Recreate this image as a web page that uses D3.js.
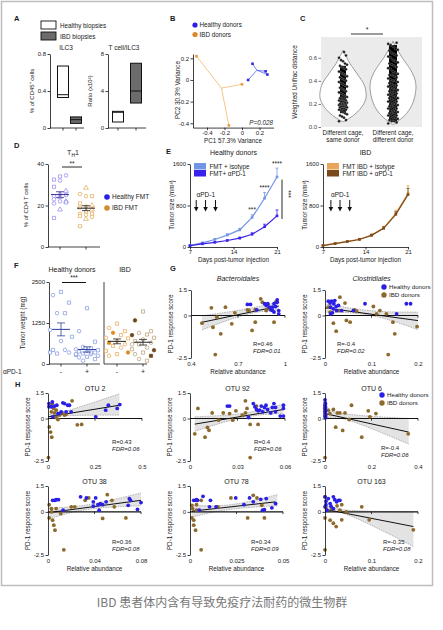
<!DOCTYPE html>
<html><head><meta charset="utf-8">
<script src="https://cdn.jsdelivr.net/npm/d3@7/dist/d3.min.js"></script>
<style>html,body{margin:0;padding:0;background:#fff;}svg{display:block}</style>
</head><body><svg id="chart"></svg>
<script>
// ================= DATA =================
// A
const ilc3Groups = ["Healthy biopsies", "IBD biopsies"];
const ilc3Box = [[0.33, 0.36, 0.67], [0.05, 0.09, 0.12]];      // q1, median, q3
const ratioBox = [[0.65, 1.7, 1.8], [2.7, 4.0, 7.0]];
const ilc3Ticks = [0, 0.4, 0.8];
const ratioTicks = [0, 4, 8];
// B
const pcaTicks = [-0.4, -0.2, 0, 0.2];
const pcaHealthyCentroid = [0.17, 0.09];
const pcaHealthy = [[0.12, 0.15], [0.07, 0.0], [0.27, 0.08], [0.29, 0.05]];
const pcaIBDCentroid = [-0.235, -0.075];
const pcaIBD = [[-0.52, 0.22], [0.0, -0.04], [-0.15, -0.42]];
// C
const violinLabels = [["Different cage,", "same donor"], ["Different cage,", "different donor"]];
const distTicks = [0, 0.2, 0.4, 0.6];
const violinSameDensity = [[0.045,0],[0.06,0.15],[0.1,0.45],[0.15,0.72],[0.2,0.9],[0.25,1],[0.3,1],[0.35,0.95],[0.4,0.83],[0.45,0.65],[0.5,0.48],[0.55,0.3],[0.6,0.17],[0.64,0.06],[0.665,0]];
const violinDiffDensity = [[0.02,0],[0.04,0.15],[0.08,0.4],[0.12,0.6],[0.18,0.8],[0.25,0.93],[0.3,0.98],[0.35,1],[0.4,0.97],[0.45,0.88],[0.5,0.75],[0.55,0.58],[0.6,0.4],[0.65,0.25],[0.7,0.1],[0.745,0]];
const distSame = [0.05,0.06,0.08,0.09,0.1,0.11,0.12,0.13,0.14,0.15,0.15,0.16,0.16,0.17,0.17,0.18,0.18,0.18,0.19,0.19,0.2,0.2,0.2,0.21,0.21,0.22,0.22,0.23,0.23,0.24,0.25,0.25,0.26,0.27,0.28,0.29,0.3,0.31,0.32,0.33,0.34,0.35,0.36,0.37,0.38,0.39,0.4,0.41,0.42,0.43,0.44,0.45,0.46,0.47,0.48,0.5,0.51,0.52,0.53,0.54,0.55,0.57,0.58,0.6,0.62,0.65];
const distSameDenseRange = [0.12, 0.53];
const distDiff = [0.03,0.04,0.05,0.05,0.06,0.07,0.08,0.08,0.09,0.1,0.1,0.11,0.12,0.12,0.13,0.14,0.14,0.15,0.16,0.16,0.17,0.18,0.18,0.19,0.2,0.2,0.21,0.22,0.22,0.23,0.24,0.25,0.25,0.26,0.27,0.28,0.28,0.29,0.3,0.3,0.31,0.32,0.33,0.33,0.34,0.35,0.36,0.36,0.37,0.38,0.39,0.4,0.4,0.41,0.42,0.43,0.44,0.45,0.45,0.46,0.47,0.48,0.5,0.51,0.52,0.53,0.54,0.55,0.56,0.57,0.58,0.6,0.61,0.62,0.63,0.64,0.66,0.67,0.68,0.7,0.71,0.72,0.73];
const distDiffDenseRange = [0.05, 0.71];
// D
const thGroups = ["Healthy FMT", "IBD FMT"];
const thHealthy = [34,32.5,34.5,32,29,27,25.5,24.5,25,24,23,22,22,21,21.5,18,14];
const thHealthyShape = ["square","square","circle","circle","square","triangle","circle","circle","square","triangle","circle","triangle","circle","circle","square","triangle","square"];
const thIBD = [28.5,25.5,24.5,24.5,21,20,19.5,19,18,17,16,16,15.5,15,14.5,13.5,10];
const thIBDShape = ["triangle","circle","square","circle","square","triangle","circle","square","triangle","square","circle","square","circle","square","circle","triangle","square"];
// E
const days = [7, 9, 11, 13, 15, 17, 19, 21];
const dayTicks = [7, 14, 21];
const sizeTicks = [0, 800, 1600];
const healthyIso = [30, 80, 145, 230, 330, 570, 940, 1350];
const healthyIsoErr = [5, 10, 15, 25, 30, 50, 110, 170];
const healthyPD1 = [25, 60, 90, 125, 170, 245, 390, 600];
const healthyPD1Err = [5, 8, 10, 15, 20, 30, 50, 115];
const ibdIso = [30, 70, 110, 150, 230, 370, 650, 1030];
const ibdIsoErr = [5, 8, 10, 15, 20, 30, 60, 150];
const ibdPD1 = [28, 65, 105, 145, 225, 360, 630, 1010];
const ibdPD1Err = [5, 8, 10, 15, 20, 30, 50, 120];
const antiPD1Days = [8, 9.5, 11.1];
const antiPD1DaysIBD = [8.3, 9.8, 11.4];
// F
const weightTicks = [0, 1250, 2500];
const weightHealthyIso = [2200,2100,1870,1550,1550,1040,830,700,430,350,320,430,350];
const weightHealthyPD1 = [1700,1000,680,520,480,450,420,400,380,350,320,300,280,250,220,200,150,100,350,300];
const weightIBDIso = [1230,1100,1000,950,880,800,780,700,650,600,550,500,400,350,300,250];
const weightIBDIsoFilled = [3, 8, 13];
const weightIBDPD1 = [1600,1330,1000,950,900,880,800,750,700,650,600,500,450,420,350,300,250,150,100,600];
const weightIBDPD1Filled = [1, 5, 13, 16];
// G
const scoreTicks = [-2.5, 0, 1.5];
const bactBlue = [[0.76,0.65],[0.78,0.65],[0.82,0.33],[0.87,0.69],[0.88,0.59],[0.9,0.49],[0.91,0.33],[0.92,0.29],[0.93,0.69],[0.94,0.53],[0.95,0.78],[0.95,0.92],[0.96,0.29],[0.93,0.2],[0.89,0.69],[0.92,0.49],[0.96,0.1]];
const bactBrown = [[0.47,-0.45],[0.53,0.45],[0.54,-0.69],[0.555,-2.3],[0.565,-0.1],[0.59,-1.08],[0.62,0.49],[0.66,-0.49],[0.68,0.16],[0.76,0.33],[0.77,0.3],[0.79,-0.88],[0.81,-0.39],[0.845,0.98],[0.855,0.78],[0.88,0.29],[0.89,0.65],[0.93,-0.39],[0.94,0.78],[0.81,0.35],[0.89,0.39]];
const bactFit = [[0.47,-0.4],[0.96,0.55]];
const bactBand = [[0.47,-0.85,-0.02],[0.75,0.05,0.38],[0.96,0.32,0.8]];
const clostBlue = [[0.007,0.84],[0.011,0.73],[0.014,0.84],[0.019,0.69],[0.012,0.49],[0.018,0.39],[0.021,0.88],[0.025,0.29],[0.012,0.1],[0.016,0.16],[0.029,0.59],[0.036,0.29],[0.061,0.29],[0.086,0.69],[0.154,0.1],[0.175,0.69],[0.184,0.69],[0.024,0.53]];
const clostBrown = [[0.007,0.49],[0.011,0.2],[0.018,-0.45],[0.024,-0.92],[0.032,1.08],[0.03,0.29],[0.043,0.73],[0.046,-0.29],[0.054,-0.39],[0.064,0.33],[0.068,0.25],[0.104,0.53],[0.111,0.1],[0.132,0.1],[0.146,-0.39],[0.15,-1.08],[0.136,-2.3],[0.198,-0.65],[0.118,0.29]];
const clostFit = [[0,0.45],[0.2,-0.3]];
const clostBand = [[0,0.2,0.69],[0.1,0.0,0.28],[0.2,-0.84,0.2]];
// H
const otu2Blue = [[0.005,0.69],[0.018,0.69],[0.035,0.73],[0.047,0.78],[0.023,0.98],[0.005,0.88],[0.058,0.29],[0.07,0.39],[0.079,0.92],[0.088,0.88],[0.096,0.39],[0.105,0.78],[0.114,0.78],[0.123,0.39],[0.026,0.1],[0.254,0.1],[0.307,0.49],[0.321,0.78],[0.368,0.59],[0.382,0.82],[0.053,0.29]];
const otu2Brown = [[0.007,-0.5],[0.014,-0.8],[0.02,-1.1],[0.002,-2.3],[0.018,0.39],[0.03,0.59],[0.035,0.33],[0.044,0.06],[0.053,-0.06],[0.061,0.2],[0.075,0.33],[0.088,0.2],[0.096,0.25],[0.128,1.04],[0.156,-0.37],[0.179,-0.35],[0.044,0.49],[0.023,0.88]];
const otu2Fit = [[0,0.1],[0.38,0.78]];
const otu2Band = [[0,-0.05,0.3],[0.08,0.15,0.38],[0.38,0.2,1.45]];
const otu92Blue = [[0.0236,0.73],[0.025,0.73],[0.04,0.88],[0.041,0.69],[0.042,0.53],[0.044,0.49],[0.045,0.73],[0.046,0.39],[0.048,0.78],[0.049,0.53],[0.051,0.33],[0.052,0.65],[0.053,0.88],[0.054,0.65],[0.054,0.39],[0.059,0.59],[0.059,0.78],[0.059,0.14],[0.057,0.14],[0.037,0.06],[0.043,0.45],[0.047,0.65]];
const otu92Brown = [[0.003,-0.9],[0.005,0.59],[0.0095,-1.1],[0.011,-0.53],[0.012,-0.69],[0.014,0.33],[0.018,-0.1],[0.021,0.33],[0.027,-0.1],[0.029,0.45],[0.033,0.2],[0.035,1.04],[0.035,0.33],[0.038,-2.3],[0.042,0.73],[0.038,-0.35],[0.043,-0.35],[0.036,0.59],[0.025,0.29]];
const otu92Fit = [[0.003,-0.33],[0.059,0.53]];
const otu92Band = [[0.003,-0.75,0.1],[0.033,0.05,0.3],[0.059,0.3,0.85]];
const otu6Blue = [[0,1.1],[0.001,0.92],[0.002,0.85],[0,0.78],[0.001,0.7],[0.002,0.65],[0,0.58],[0.001,0.53],[0.002,0.45],[0,0.39],[0.001,0.3],[0.002,0.25],[0,0.15],[0.001,0.1],[0.003,0.05]];
const otu6Brown = [[0,-2.3],[0.014,0.49],[0.036,0.53],[0.053,0.33],[0.046,-0.51],[0.076,-0.7],[0.086,0.33],[0.104,-0.06],[0.114,0.78],[0.158,-1.1],[0.186,0.45],[0.193,0.1],[0.219,0.29],[0.358,-0.9],[0.021,0.29],[0.064,0.33],[0.004,0.2]];
const otu6Fit = [[0,0.29],[0.36,-0.8]];
const otu6Band = [[0,0.0,0.58],[0.1,-0.1,0.25],[0.36,-1.5,0.0]];
const otu38Blue = [[0.004,0.67],[0.006,0.67],[0.007,0.71],[0.009,0.71],[0.013,0.1],[0.028,0.87],[0.033,0.81],[0.039,0.58],[0.041,0.81],[0.043,0.42],[0.045,0.48],[0.047,0.42],[0.05,0.58],[0.044,0.1],[0.039,0.33],[0.07,0.77],[0.071,0.67],[0.069,0.38],[0.077,0.15],[0.08,0.54]];
const otu38Brown = [[0.001,0.42],[0.003,0.19],[0.001,-0.35],[0.004,-0.48],[0.005,-0.77],[0.006,-1.06],[0.003,0],[0.007,0.19],[0.011,-0.1],[0.02,0.29],[0.023,0.29],[0.032,0.67],[0.035,0.81],[0.047,-0.38],[0.051,1.0],[0.055,0.67],[0.057,0.29],[0.067,-0.35],[0.0136,-2.2]];
const otu38Fit = [[0.001,-0.04],[0.08,0.67]];
const otu38Band = [[0.001,-0.4,0.22],[0.035,0.15,0.42],[0.08,0.35,1.1]];
const otu78Blue = [[0.002,0.67],[0.003,0.67],[0.0035,0.71],[0.004,0.67],[0.007,0.9],[0.0105,0.29],[0.011,0.67],[0.014,0.29],[0.0246,0.81],[0.029,0.42],[0.032,0.81],[0.034,0.58],[0.038,0.73],[0.039,0.1],[0.04,0.13],[0.046,0.48],[0.041,0.77],[0.044,0.23],[0.005,0.1]];
const otu78Brown = [[0.001,0.38],[0.0014,0.19],[0.001,-0.35],[0.002,-0.48],[0.002,-0.77],[0.003,-1.06],[0.0035,0.1],[0.006,0.67],[0.0035,0.42],[0.015,0.29],[0.022,0.81],[0.031,-0.35],[0.034,0.96],[0.036,0.81],[0.04,-0.35],[0.0386,0.38],[0.006,-2.2]];
const otu78Fit = [[0.001,0.04],[0.046,0.58]];
const otu78Band = [[0.001,-0.3,0.38],[0.022,0.15,0.42],[0.047,0.35,1.0]];
const otu163Blue = [[0,0.87],[0.002,0.62],[0.002,0.42],[0,0.29],[0.007,0.77],[0.011,0.48],[0.018,0.87],[0.021,0.71],[0.025,0.58],[0.029,0.67],[0.032,0.67],[0.018,0.19],[0.013,0.33],[0.004,0.1]];
const otu163Brown = [[0,0.87],[0.002,0.23],[0,-0.35],[0.011,-0.48],[0.018,-0.66],[0.024,-0.85],[0.014,0.19],[0.026,0.35],[0.036,0.42],[0.032,0.1],[0.046,0],[0.079,0.29],[0.095,-0.46],[0.036,-0.46],[0.19,-1.04],[0,-2.2]];
const otu163Fit = [[0,0.15],[0.19,-0.85]];
const otu163Band = [[0,-0.05,0.4],[0.05,-0.18,0.1],[0.19,-2.0,0.0]];

// ================= DRAW =================
const W = 443, H = 630;
const FONT = "'Liberation Sans', Arial, Helvetica, sans-serif";
const svg = d3.select("#chart").attr("width", W).attr("height", H).attr("font-family", FONT);
svg.append("rect").attr("width", W).attr("height", H).attr("fill", "#fff");
svg.append("rect").attr("x", 1.5).attr("y", 1.5).attr("width", 431).attr("height", 584)
  .attr("fill", "#fff").attr("stroke", "#bdbdbd").attr("stroke-width", 1.5);

const BLUE = "#2b1fe6", BROWN = "#8c6a2d", ORANGE = "#d8892c";

function T(x, y, s, o = {}) {
  const t = svg.append("text").attr("x", x).attr("y", y).attr("font-size", o.size || 6.5)
    .attr("fill", o.fill || "#1a1a1a").attr("text-anchor", o.anchor || "start").text(s);
  if (o.bold) t.attr("font-weight", "bold");
  if (o.italic) t.attr("font-style", "italic");
  if (o.rot) t.attr("transform", `rotate(${o.rot},${x},${y})`);
  return t;
}
function styleAxis(g, o = {}) {
  g.attr("font-size", o.size || 6).attr("font-family", FONT);
  g.selectAll("path,line").attr("stroke", o.stroke || "#111").attr("stroke-width", o.sw || 0.8);
  g.selectAll("text").attr("fill", o.fill || "#1a1a1a");
  return g;
}
function axL(x, scale, ticks, fmt, o = {}) {
  const a = d3.axisLeft(scale).tickValues(ticks).tickSize(o.ts ?? 2.5).tickSizeOuter(0).tickPadding(o.pad ?? 1.5)
    .tickFormat(fmt || (d => String(d)));
  return styleAxis(svg.append("g").attr("transform", `translate(${x},0)`).call(a), o);
}
function axB(y, scale, ticks, fmt, o = {}) {
  const a = d3.axisBottom(scale).tickValues(ticks).tickSize(o.ts ?? 2.5).tickSizeOuter(0).tickPadding(o.pad ?? 1.5)
    .tickFormat(fmt || (d => String(d)));
  return styleAxis(svg.append("g").attr("transform", `translate(0,${y})`).call(a), o);
}
function line(x1, y1, x2, y2, c = "#111", w = 0.8) {
  return svg.append("line").attr("x1", x1).attr("y1", y1).attr("x2", x2).attr("y2", y2).attr("stroke", c).attr("stroke-width", w);
}
const symT = { circle: d3.symbolCircle, square: d3.symbolSquare, triangle: d3.symbolTriangle };
function mark(x, y, shape, stroke, fill, size = 11) {
  svg.append("path").attr("d", d3.symbol().type(symT[shape]).size(size)()).attr("transform", `translate(${x},${y})`)
    .attr("fill", fill).attr("stroke", stroke).attr("stroke-width", 0.7);
}

// ---------- A ----------
T(14, 21, "A", { bold: true, size: 7.5 });
svg.append("rect").attr("x", 41).attr("y", 21).attr("width", 15).attr("height", 8).attr("fill", "#fff").attr("stroke", "#111").attr("stroke-width", 0.9);
svg.append("rect").attr("x", 41).attr("y", 32).attr("width", 15).attr("height", 8).attr("fill", "#6b6b6b").attr("stroke", "#111").attr("stroke-width", 0.9);
T(60, 27.5, "Healthy biopsies", { size: 6.3 });
T(60, 38.5, "IBD biopsies", { size: 6.3 });
function boxPanel(axisX, xEnd, centers, boxes, yDomain, ticks, title, titleX, ylabel) {
  const y = d3.scaleLinear().domain(yDomain).range([128, 54]);
  const x = d3.scalePoint().domain(ilc3Groups).range(centers);
  axL(axisX, y, ticks);
  line(axisX, 128, xEnd, 128);
  ilc3Groups.forEach(g => line(x(g), 128, x(g), 130.5));
  boxes.forEach((b, i) => {
    const g = ilc3Groups[i], bw = 11;
    svg.append("rect").attr("x", x(g) - bw / 2).attr("y", y(b[2])).attr("width", bw).attr("height", y(b[0]) - y(b[2]))
      .attr("fill", i ? "#6b6b6b" : "#fff").attr("stroke", "#111").attr("stroke-width", 1);
    line(x(g) - bw / 2, y(b[1]), x(g) + bw / 2, y(b[1]), "#111", 1);
  });
  T(titleX, 50, title, { anchor: "middle", size: 6.5 });
  T(axisX - 16, 91, ylabel, { anchor: "middle", rot: -90, size: 6 });
}
boxPanel(50, 84, [63, 76], ilc3Box, [0, 0.8], ilc3Ticks, "ILC3", 66, "% of CD45\u207A cells");
boxPanel(108, 146, [118, 136], ratioBox, [0, 8], ratioTicks, "T cell/ILC3", 124, "Ratio (x10\u00B2)");

// ---------- B ----------
T(170, 21, "B", { bold: true, size: 7.5 });
svg.append("circle").attr("cx", 195).attr("cy", 25).attr("r", 2.6).attr("fill", BLUE);
svg.append("circle").attr("cx", 195).attr("cy", 34.5).attr("r", 2.6).attr("fill", ORANGE);
T(199.5, 27.3, "Healthy donors", { size: 6.3 });
T(199.5, 36.8, "IBD donors", { size: 6.3 });
{
  const bx = d3.scaleLinear().domain([-0.56, 0.36]).range([193, 273.5]);
  const by = d3.scaleLinear().domain([-0.44, 0.24]).range([127.6, 54]);
  axL(193, by, pcaTicks);
  axB(127.6, bx, pcaTicks, null, { pad: 1 });
  const grp = (cent, pts, lc, pc) => {
    pts.forEach(p => line(bx(cent[0]), by(cent[1]), bx(p[0]), by(p[1]), lc, 0.8));
    pts.forEach(p => svg.append("rect").attr("x", bx(p[0]) - 1.3).attr("y", by(p[1]) - 1.3).attr("width", 2.6).attr("height", 2.6).attr("fill", pc));
  };
  grp(pcaIBDCentroid, pcaIBD, "#f2b866", "#e89a3a");
  grp(pcaHealthyCentroid, pcaHealthy, "#5566ee", "#2b2be0");
  T(273, 124.5, "P=0.028", { anchor: "end", italic: true, size: 6.3 });
  T(233, 143, "PC1 57.3% Variance", { anchor: "middle", size: 6.3 });
  T(180, 90, "PC2 30.3% Variance", { anchor: "middle", rot: -90, size: 6.3 });
}

// ---------- C ----------
T(300, 21, "C", { bold: true, size: 7.5 });
{
  const cy = d3.scaleLinear().domain([0, 0.78]).range([127, 37]);
  svg.append("rect").attr("x", 321).attr("y", 37).attr("width", 101).attr("height", 90).attr("fill", "#ebebeb");
  const g = axL(321, cy, distTicks, d3.format(".1f"), { stroke: "#555", fill: "#444" });
  g.select(".domain").remove();
  const wScale = d3.scaleLinear().domain([0, 1]).range([0, 23]);
  const centers = [343, 393];
  [violinSameDensity, violinDiffDensity].forEach((dens, i) => {
    const cx = centers[i];
    const area = d3.area().y(d => cy(d[0])).x0(d => cx - wScale(d[1])).x1(d => cx + wScale(d[1])).curve(d3.curveCatmullRom);
    svg.append("path").attr("d", area(dens)).attr("fill", "#fff").attr("stroke", "#777").attr("stroke-width", 0.7);
  });
  // dense strips
  [[distSameDenseRange, 0, 6], [distDiffDenseRange, 1, 8]].forEach(([rg, i, w]) =>
    svg.append("rect").attr("x", centers[i] - w / 2).attr("y", cy(rg[1])).attr("width", w)
      .attr("height", cy(rg[0]) - cy(rg[1])).attr("fill", "#000"));
  const jit = i => ((i * 7) % 9 - 4);
  distSame.forEach((v, i) => svg.append("circle").attr("cx", centers[0] + jit(i)).attr("cy", cy(v)).attr("r", 1.3)
    .attr("fill", "#111").attr("stroke", "#aaa").attr("stroke-width", 0.3));
  distDiff.forEach((v, i) => svg.append("circle").attr("cx", centers[1] + jit(i) * 1.2).attr("cy", cy(v)).attr("r", 1.3)
    .attr("fill", "#111").attr("stroke", "#aaa").attr("stroke-width", 0.3));
  line(351, 34, 383, 34, "#222", 0.9);
  T(367, 32, "*", { anchor: "middle", size: 7 });
  violinLabels.forEach((lab, i) => {
    T(centers[i], 134.5, lab[0], { anchor: "middle", size: 6.3 });
    T(centers[i], 141.5, lab[1], { anchor: "middle", size: 6.3 });
  });
  T(297, 82, "Weighted Unifrac distance", { anchor: "middle", rot: -90, size: 6.3 });
}

// ---------- D ----------
T(14, 148, "D", { bold: true, size: 7.5 });
{
  const dy = d3.scaleLinear().domain([0, 40]).range([247, 164]);
  const dx = d3.scalePoint().domain(thGroups).range([60, 86]);
  axL(48, dy, [0, 20, 40]);
  line(48, 247, 100, 247);
  thGroups.forEach(g => line(dx(g), 247, dx(g), 249.5));
  const offs = [0, -6, 6];
  const sets = [[thHealthy, thHealthyShape, "#8e84ea", "#3a2f9a"], [thIBD, thIBDShape, "#e3a652", "#222"]];
  sets.forEach(([vals, shapes, col, mcol], gi) => {
    const cx = dx(thGroups[gi]);
    vals.forEach((v, i) => mark(cx + offs[i % 3], dy(v), shapes[i], col, "#fff", 10));
    const m = d3.mean(vals), se = d3.deviation(vals) / Math.sqrt(vals.length);
    line(cx - 9, dy(m), cx + 9, dy(m), mcol, 1);
    line(cx, dy(m - se), cx, dy(m + se), mcol, 0.8);
    line(cx - 4, dy(m - se), cx + 4, dy(m - se), mcol, 0.8);
    line(cx - 4, dy(m + se), cx + 4, dy(m + se), mcol, 0.8);
  });
  line(62, 167, 82, 167, "#111", 0.9);
  T(72, 165.5, "**", { anchor: "middle", size: 6.5 });
  const t = T(73, 155, "T", { anchor: "middle", size: 7 });
  t.append("tspan").attr("font-size", 5).attr("dy", 1.5).text("H");
  t.append("tspan").attr("dy", -1.5).text("1");
  svg.append("circle").attr("cx", 107).attr("cy", 197).attr("r", 2.8).attr("fill", BLUE);
  svg.append("circle").attr("cx", 107).attr("cy", 208).attr("r", 2.8).attr("fill", ORANGE);
  T(112, 199.3, "Healthy FMT", { size: 6.5 });
  T(112, 210.3, "IBD FMT", { size: 6.5 });
  T(28, 205, "% of CD4 T cells", { anchor: "middle", rot: -90, size: 6 });
}

// ---------- E ----------
T(166, 154, "E", { bold: true, size: 7.5 });
function tumorPanel(x0, x1, series, errs, colors, labels, title, arrowDays, ylx) {
  const x = d3.scaleLinear().domain([7, 21]).range([x0, x1]);
  const y = d3.scaleLinear().domain([0, 1600]).range([247, 164]);
  axL(x0, y, sizeTicks);
  axB(247, x, dayTicks, null, { pad: 0.5 });
  series.forEach((s, k) => {
    const c = colors[k];
    s.forEach((v, i) => {
      line(x(days[i]), y(v), x(days[i]), y(v + errs[k][i]), c, 0.8);
      line(x(days[i]) - 1.5, y(v + errs[k][i]), x(days[i]) + 1.5, y(v + errs[k][i]), c, 0.8);
    });
    svg.append("path").attr("d", d3.line().x((d, i) => x(days[i])).y(d => y(d))(s)).attr("fill", "none").attr("stroke", c).attr("stroke-width", 1.2);
    s.forEach((v, i) => svg.append("rect").attr("x", x(days[i]) - 1.3).attr("y", y(v) - 1.3).attr("width", 2.6).attr("height", 2.6).attr("fill", c));
  });
  labels.forEach((l, k) => {
    svg.append("rect").attr("x", x0 + 4).attr("y", 163 + k * 7).attr("width", 12).attr("height", 6.5).attr("fill", colors[k]);
    T(x0 + 19.5, 168.8 + k * 7.2, l, { size: 6.3 });
  });
  T(d3.mean(arrowDays.map(x)), 197, "\u03B1PD-1", { anchor: "middle", size: 6.5 });
  arrowDays.forEach(d => {
    line(x(d), 200, x(d), 208, "#111", 1);
    svg.append("path").attr("d", `M${x(d) - 2.3},207 L${x(d) + 2.3},207 L${x(d)},211.5 Z`).attr("fill", "#111");
  });
  T((x0 + x1) / 2, 154.5, title, { anchor: "middle", size: 7 });
  T((x0 + x1) / 2, 261.5, "Days post-tumor injection", { anchor: "middle", size: 6.3 });
  T(ylx, 205, "Tumor size (mm\u00B3)", { anchor: "middle", rot: -90, size: 6.3 });
  return { x, y };
}
{
  const s = tumorPanel(190, 277, [healthyIso, healthyPD1], [healthyIsoErr, healthyPD1Err], ["#7395e6", "#3b22ea"],
    ["FMT + isotype", "FMT+ \u03B1PD-1"], "Healthy donors", antiPD1Days, 173.5);
  T(s.x(17), s.y(healthyIso[5] + healthyIsoErr[5]) - 3, "***", { anchor: "middle", size: 6.5 });
  T(s.x(19), s.y(healthyIso[6] + healthyIsoErr[6]) - 3, "****", { anchor: "middle", size: 6.5 });
  T(s.x(21), s.y(healthyIso[7] + healthyIsoErr[7]) - 2, "****", { anchor: "middle", size: 6.5 });
  line(282, s.y(healthyIso[7] - 50), 282, s.y(healthyPD1[7] - 60), "#111", 0.9);
  T(285.5, 194, "***", { anchor: "middle", size: 6.5, rot: 90 });
  tumorPanel(323, 408, [ibdIso, ibdPD1], [ibdIsoErr, ibdPD1Err], ["#e9a55c", "#7a4a1c"],
    ["FMT IBD + isotype", "FMT IBD + \u03B1PD-1"], "IBD", antiPD1DaysIBD, 306.5);
}

// ---------- F ----------
T(14, 268, "F", { bold: true, size: 7.5 });
{
  const fy = d3.scaleLinear().domain([0, 2500]).range([364, 282]);
  axL(49, fy, weightTicks);
  line(104, 282, 104, 364);
  line(49, 364, 100, 364);
  line(104, 364, 147, 364);
  const cats = [61, 87, 117, 143];
  cats.forEach(c => line(c, 364, c, 366.5));
  const offs = [0, -8, 8, -4, 4, -11, 11];
  const groups = [
    [weightHealthyIso, [], "#7d93e3", "#7d93e3", "#2e3f9e"],
    [weightHealthyPD1, [], "#7d93e3", "#7d93e3", "#2e3f9e"],
    [weightIBDIso, weightIBDIsoFilled, "#e8a24a", "#e08a20", "#222"],
    [weightIBDPD1, weightIBDPD1Filled, "#b89a72", "#6e4517", "#222"]
  ];
  groups.forEach(([vals, filled, col, fcol, mcol], gi) => {
    const cx = cats[gi];
    vals.forEach((v, i) => {
      const f = filled.includes(i);
      mark(cx + offs[i % offs.length], fy(v), i % 2 ? "circle" : "square", f ? fcol : col, f ? fcol : "#fff", 10);
    });
    const m = d3.mean(vals), se = d3.deviation(vals) / Math.sqrt(vals.length);
    line(cx - 9, fy(m), cx + 9, fy(m), mcol, 1);
    line(cx, fy(m - se), cx, fy(m + se), mcol, 0.8);
    line(cx - 4, fy(m - se), cx + 4, fy(m - se), mcol, 0.8);
    line(cx - 4, fy(m + se), cx + 4, fy(m + se), mcol, 0.8);
  });
  line(62, 282.5, 86, 282.5, "#111", 1);
  T(74, 280, "***", { anchor: "middle", size: 6.5 });
  T(72, 272, "Healthy donors", { anchor: "middle", size: 7 });
  T(125, 272, "IBD", { anchor: "middle", size: 7 });
  T(3, 374, "\u03B1PD-1", { size: 6.5 });
  ["-", "+", "-", "+"].forEach((s, i) => T(cats[i], 374, s, { anchor: "middle", size: 7 }));
  T(25, 323, "Tumor weight (mg)", { anchor: "middle", rot: -90, size: 6.3 });
}

// ---------- G / H scatter ----------
function scatter(c) {
  const x = d3.scaleLinear().domain(c.xd).range([c.l, c.r]);
  const y = d3.scaleLinear().domain([-2.5, 1.5]).range([c.b, c.t]);
  const area = d3.area().x(d => x(d[0])).y0(d => y(d[1])).y1(d => y(d[2])).curve(d3.curveNatural);
  svg.append("path").attr("d", area(c.band)).attr("fill", "#dedede").attr("fill-opacity", 0.85);
  [1, 2].forEach(k => svg.append("path").attr("d", d3.line().x(d => x(d[0])).y(d => y(d[k])).curve(d3.curveNatural)(c.band))
    .attr("fill", "none").attr("stroke", "#888").attr("stroke-width", 0.6).attr("stroke-dasharray", "1.5,1"));
  line(c.l, y(0), c.r, y(0), "#111", 1.1);
  c.ticks.forEach(v => { if (v !== c.xd[0]) line(x(v), y(0), x(v), y(0) + 2.2, "#111", 0.8); });
  line(x(c.fit[0][0]), y(c.fit[0][1]), x(c.fit[1][0]), y(c.fit[1][1]), "#111", 1);
  c.brown.forEach(p => svg.append("circle").attr("cx", x(p[0])).attr("cy", y(p[1])).attr("r", 1.9).attr("fill", BROWN));
  c.blue.forEach(p => svg.append("circle").attr("cx", x(p[0])).attr("cy", y(p[1])).attr("r", 1.9).attr("fill", BLUE));
  axL(c.l, y, scoreTicks);
  const gb = axB(c.b, x, c.ticks, null, { ts: 0, pad: 4 });
  gb.select(".domain").remove();
  if (c.title) T((c.l + c.r) / 2, c.t - c.titleDy, c.title, { anchor: "middle", size: 7, italic: !!c.italic });
  T(c.l - 18, (c.t + c.b) / 2, "PD-1 response score", { anchor: "middle", rot: -90, size: 6.3 });
  if (c.xlabel) T((c.l + c.r) / 2, c.b + 15.5, "Relative abundance", { anchor: "middle", size: 6.3 });
  T(c.rx, c.ry, c.R, { size: 6 });
  T(c.rx, c.ry + 6.5, c.FDR, { size: 6, italic: true });
  if (c.legend) {
    svg.append("circle").attr("cx", c.legend[0]).attr("cy", c.legend[1]).attr("r", 2.7).attr("fill", BLUE);
    svg.append("circle").attr("cx", c.legend[0]).attr("cy", c.legend[1] + 8).attr("r", 2.7).attr("fill", BROWN);
    T(c.legend[0] + 5, c.legend[1] + 2.2, "Healthy donors", { size: 6.2 });
    T(c.legend[0] + 5, c.legend[1] + 10.2, "IBD donors", { size: 6.2 });
  }
}
T(170, 271, "G", { bold: true, size: 7.5 });
T(15, 387, "H", { bold: true, size: 7.5 });
const plots = [
  { l: 191, r: 285, t: 290, b: 358, xd: [0.4, 1], ticks: [0.4, 0.7, 1], blue: bactBlue, brown: bactBrown, fit: bactFit, band: bactBand,
    title: "Bacteroidales", titleDy: 9, italic: true, xlabel: true, R: "R=0.46", FDR: "FDR=0.01", rx: 253, ry: 346 },
  { l: 325, r: 418, t: 290, b: 358, xd: [0, 0.2], ticks: [0, 0.1, 0.2], blue: clostBlue, brown: clostBrown, fit: clostFit, band: clostBand,
    title: "Clostridiales", titleDy: 9, italic: true, xlabel: true, R: "R=-0.4", FDR: "FDR=0.02", rx: 337, ry: 346, legend: [384, 287] },
  { l: 48, r: 142, t: 393, b: 461, xd: [0, 0.5], ticks: [0, 0.25, 0.5], blue: otu2Blue, brown: otu2Brown, fit: otu2Fit, band: otu2Band,
    title: "OTU 2", titleDy: 2.5, R: "R=0.43", FDR: "FDR=0.06", rx: 112, ry: 444 },
  { l: 190, r: 285, t: 393, b: 461, xd: [0, 0.06], ticks: [0, 0.03, 0.06], blue: otu92Blue, brown: otu92Brown, fit: otu92Fit, band: otu92Band,
    title: "OTU 92", titleDy: 2.5, R: "R=0.4", FDR: "FDR=0.06", rx: 254, ry: 444 },
  { l: 325, r: 418, t: 393, b: 461, xd: [0, 0.4], ticks: [0, 0.2, 0.4], blue: otu6Blue, brown: otu6Brown, fit: otu6Fit, band: otu6Band,
    title: "OTU 6", titleDy: 2.5, R: "R=-0.4", FDR: "FDR=0.06", rx: 381, ry: 450, legend: [382, 395] },
  { l: 48, r: 141, t: 486, b: 555, xd: [0, 0.08], ticks: [0, 0.04, 0.08], blue: otu38Blue, brown: otu38Brown, fit: otu38Fit, band: otu38Band,
    title: "OTU 38", titleDy: 2, xlabel: true, R: "R=0.36", FDR: "FDR=0.08", rx: 112, ry: 544 },
  { l: 190, r: 283, t: 486, b: 555, xd: [0, 0.05], ticks: [0, 0.025, 0.05], blue: otu78Blue, brown: otu78Brown, fit: otu78Fit, band: otu78Band,
    title: "OTU 78", titleDy: 2, xlabel: true, R: "R=0.34", FDR: "FDR=0.09", rx: 251, ry: 544 },
  { l: 325, r: 418, t: 486, b: 555, xd: [0, 0.2], ticks: [0, 0.1, 0.2], blue: otu163Blue, brown: otu163Brown, fit: otu163Fit, band: otu163Band,
    title: "OTU 163", titleDy: 2, xlabel: true, R: "R=-0.35", FDR: "FDR=0.08", rx: 383, ry: 544 }
];
plots.forEach(scatter);

// caption
svg.append("text").attr("x", 222).attr("y", 607).attr("text-anchor", "middle").attr("font-size", 12)
  .attr("font-family", "'Noto Sans CJK SC', 'Noto Sans', sans-serif").attr("fill", "#777")
  .text("IBD 患者体内含有导致免疫疗法耐药的微生物群");
</script></body></html>
